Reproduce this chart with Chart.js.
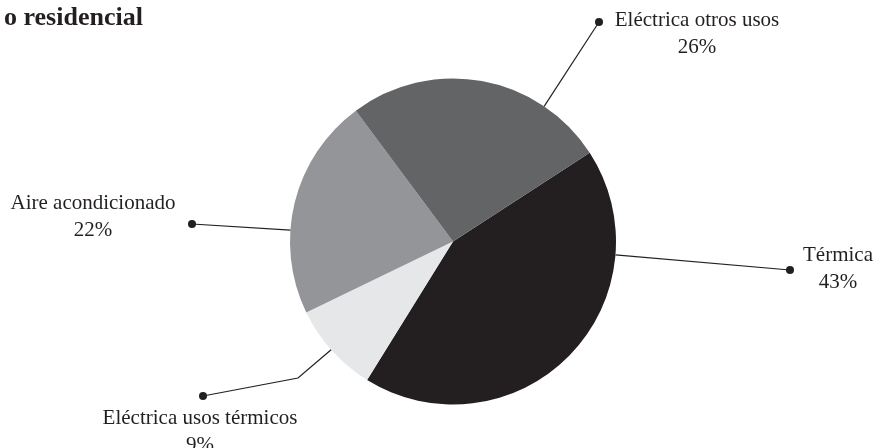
<!DOCTYPE html>
<html>
<head>
<meta charset="utf-8">
<script src="https://cdn.jsdelivr.net/npm/chart.js@4.4.0/dist/chart.umd.min.js"></script>
<style>
  html, body { margin: 0; padding: 0; background: #fff; }
  canvas { display: block; }
</style>
</head>
<body>
<canvas id="pieChart" width="876" height="448"></canvas>
<script>
const categories = ["Térmica", "Eléctrica usos térmicos", "Aire acondicionado", "Eléctrica otros usos"];
const shares = [43, 9, 22, 26];
const sliceColors = ["#231f20", "#e6e7e8", "#939598", "#636466"];

const ink = "#231f20";
const labelFont = '21px "Liberation Serif", "Times New Roman", serif';

// leader lines: angle where they leave the pie (deg, clockwise from top),
// optional elbow, dot and text centre, all as offsets from the pie centre
const leaders = [
    { angle: 94.7, dot: [337, 28.5], text: [385, 13.5] },
    { angle: 228.4, elbow: [-155, 136.5], dot: [-250, 154.5], text: [-253, 176.5] },
    { angle: 274, dot: [-261, -17.5], text: [-360, -38.5] },
    { angle: 34, dot: [146, -219.5], text: [244, -221.5] }
];

const leaderLabels = {
    id: "leaderLabels",
    afterDraw(chart) {
        const ctx = chart.ctx;
        const arcs = chart.getDatasetMeta(0).data;
        ctx.save();
        ctx.strokeStyle = ink;
        ctx.fillStyle = ink;
        ctx.lineWidth = 1.2;
        arcs.forEach((arc, i) => {
            const l = leaders[i];
            const cx = arc.x, cy = arc.y, r = arc.outerRadius;
            const a = l.angle * Math.PI / 180;
            ctx.beginPath();
            ctx.moveTo(cx + r * Math.sin(a), cy - r * Math.cos(a));
            if (l.elbow) ctx.lineTo(cx + l.elbow[0], cy + l.elbow[1]);
            ctx.lineTo(cx + l.dot[0], cy + l.dot[1]);
            ctx.stroke();
            ctx.beginPath();
            ctx.arc(cx + l.dot[0], cy + l.dot[1], 4, 0, Math.PI * 2);
            ctx.fill();

            ctx.font = labelFont;
            ctx.textAlign = "center";
            ctx.textBaseline = "middle";
            const tx = cx + l.text[0], ty = cy + l.text[1];
            ctx.fillText(categories[i], tx, ty);
            ctx.fillText(shares[i] + "%", tx, ty + 27);
        });

        // title, partly off the left edge
        ctx.font = 'bold 26px "Liberation Serif", "Times New Roman", serif';
        ctx.textAlign = "left";
        ctx.textBaseline = "middle";
        ctx.fillText("o residencial", 4, 18);
        ctx.restore();
    }
};

new Chart(document.getElementById("pieChart"), {
    type: "pie",
    data: {
        labels: categories,
        datasets: [{
            data: shares,
            backgroundColor: sliceColors,
            borderWidth: 0
        }]
    },
    options: {
        responsive: false,
        devicePixelRatio: 1,
        animation: false,
        rotation: 57,
        layout: { padding: { left: 290, right: 260, top: 78, bottom: 43 } },
        plugins: {
            legend: { display: false },
            tooltip: { enabled: false }
        }
    },
    plugins: [leaderLabels]
});
</script>
</body>
</html>
